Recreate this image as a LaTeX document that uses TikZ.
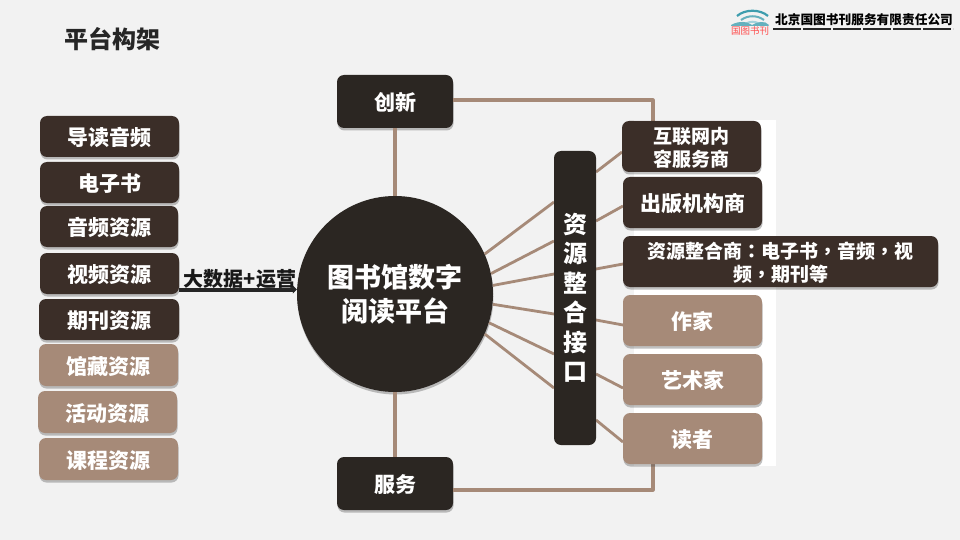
\documentclass[tikz,border=0pt]{standalone}
\usepackage{fontspec}
\setmainfont{Noto Sans CJK SC}
\newfontfamily\tcfont{Noto Sans CJK TC}
\usetikzlibrary{shadows,arrows.meta}
\definecolor{bgc}{HTML}{F2F2F2}
\definecolor{brownbox}{HTML}{3B2E28}
\definecolor{darkbox}{HTML}{2B2622}
\definecolor{tanbox}{HTML}{A68A78}
\definecolor{tealc}{HTML}{3E9DAE}
\definecolor{teall}{HTML}{A5D3DC}
\tikzset{
  x=1pt,y=-1pt,
  softshadow/.style={drop shadow={shadow xshift=0.5pt,shadow yshift=-2.5pt,opacity=.35,fill=black!70}},
  boxbase/.style={rounded corners=7pt,softshadow,inner sep=0pt,align=center,text=white,font=\fontsize{21}{24}\selectfont\bfseries},
  brownnode/.style={boxbase,fill=brownbox},
  tannode/.style={boxbase,fill=tanbox},
  darknode/.style={boxbase,fill=darkbox},
  smalltext/.style={font=\fontsize{19}{23}\selectfont\bfseries},
  link/.style={draw=tanbox,line width=3.2pt},
  thinlink/.style={draw=tanbox,line width=2.8pt},
}
\newcommand{\boxat}[7]{% style,name,x1,y1,x2,y2,text
  \node[#1,minimum width=#5pt-#3pt,minimum height=#6pt-#4pt] (#2) at ({(#3+#5)/2},{(#4+#6)/2}) {\vbox{\kern3.75pt\hbox{\begin{tabular}{@{}c@{}}#7\end{tabular}}\kern-3.75pt}};}
\begin{document}
\begin{tikzpicture}
\useasboundingbox (0,0) rectangle (960,540);
\fill[bgc] (0,0) rectangle (960,540);
\fill[white] (634,120) rectangle (776,466);
% title
\node[anchor=center,font=\fontsize{24}{28}\selectfont\bfseries,text=black!85] (title) at (112,39) {平台构架};
% logo
\begin{scope}
\draw[tealc,line width=2.2pt] (737,16) .. controls (745,9) and (760,9) .. (768,16);
\draw[tealc!80,line width=2pt] (741,20) .. controls (748,15) and (757,15) .. (764,20);
\draw[teall,line width=2pt] (745,24) .. controls (750,21) and (755,21) .. (760,24);
\fill[tealc!80] (731,25) .. controls (740,20) and (748,22) .. (752,25) .. controls (757,22) and (765,20) .. (769,25) -- (768,26) -- (731,26) -- cycle;
\node[text=red!70,font=\fontsize{9.5}{9.5}\selectfont,inner sep=0pt] (logotext) at (750,31) {国图书刊};
\node[text=black,font=\fontsize{12.7}{13}\selectfont\bfseries,inner sep=0pt] (company) at (864,20) {北京国图书刊服务有限责任公司};
\coordinate (subl) at (773,29.5);
\coordinate (subr) at (953,29.5);
\draw[black!85,line width=2pt,dash pattern=on 28pt off 2pt] (subl) -- (subr);
\end{scope}
% nodes
\node[circle,fill=darkbox,softshadow,minimum size=196pt,inner sep=0pt,align=center,text=white,font=\fontsize{27}{34}\selectfont\bfseries] (hub) at (395,294) {图书馆数字\\阅读平台};
\coordinate (b1) at (554,202);
\coordinate (b2) at (554,241);
\coordinate (b3) at (554,274);
\coordinate (b4) at (554,314);
\coordinate (b5) at (554,354);
\coordinate (b6) at (554,388);
\coordinate (c1) at (596,172);
\coordinate (c2) at (596,221);
\coordinate (c3) at (596,269);
\coordinate (c4) at (596,320);
\coordinate (c5) at (596,374);
\coordinate (c6) at (596,420);
\coordinate (d1) at (622,152);
\coordinate (d2) at (623,206);
\coordinate (d3) at (623,264);
\coordinate (d4) at (623,325);
\coordinate (d5) at (623,388);
\coordinate (d6) at (623,442);
\coordinate (tr) at (653,100);
\coordinate (br) at (653,490);
\coordinate (tb) at (653,122);
\coordinate (bb) at (653,464);
% left column
\boxat{brownnode}{l1}{40}{116}{179}{157}{导读音频}
\boxat{brownnode}{l2}{40}{162}{179}{203}{电子书}
\boxat{brownnode}{l3}{40}{206}{178}{247}{音频资源}
\boxat{brownnode}{l4}{40}{253}{179}{294}{视频资源}
\boxat{brownnode}{l5}{39}{299}{179}{340}{期刊资源}
\boxat{tannode}{l6}{39}{344}{178}{386}{馆藏资源}
\boxat{tannode}{l7}{38}{391}{177}{433}{活动资源}
\boxat{tannode}{l8}{39}{438}{178}{480}{课程资源}
% top & bottom
\boxat{darknode}{top}{337}{75}{453}{128}{创新}
\boxat{darknode}{bot}{337}{457}{453}{510}{服务}
% connectors (behind boxes on the right)
\draw[link] (top.south) -- (hub.north);
\draw[link] (bot.north) -- (hub.south);
\draw[link,line join=round] (453,100) -- (tr) -- (tb);
\draw[link,line join=round] (453,490) -- (br) -- (bb);
\draw[thinlink] (hub.24) -- (b1);
\draw[thinlink] (hub.12) -- (b2);
\draw[thinlink] (hub.5) -- (b3);
\draw[thinlink] (hub.-6) -- (b4);
\draw[thinlink] (hub.-17) -- (b5);
\draw[thinlink] (hub.-24) -- (b6);
\draw[thinlink] (c1) -- (d1);
\draw[thinlink] (c2) -- (d2);
\draw[thinlink] (c3) -- (d3);
\draw[thinlink] (c4) -- (d4);
\draw[thinlink] (c5) -- (d5);
\draw[thinlink] (c6) -- (d6);
% bar
\node[fill=darkbox,rounded corners=7pt,inner sep=0pt,minimum width=42pt,minimum height=294pt,text=white,align=center,font=\fontsize{24}{29.5}\selectfont\bfseries] (bar) at (575,298) {资\\源\\整\\合\\接\\口};
% right column
\boxat{brownnode,smalltext}{r1}{622}{121}{761}{172}{互联网内\\容服务商}
\boxat{brownnode}{r2}{623}{177}{762}{228}{出版机构商}
\boxat{brownnode,smalltext}{r3}{623}{236}{938}{287}{资源整合商{\tcfont\bfseries ：}电子书{\tcfont\bfseries ，}音频{\tcfont\bfseries ，}视\\频{\tcfont\bfseries ，}期刊等}
\boxat{tannode}{r4}{623}{295}{762}{346}{作家}
\boxat{tannode}{r5}{623}{354}{762}{405}{艺术家}
\boxat{tannode}{r6}{623}{413}{762}{464}{读者}
% big-data arrow
\draw[black!85,line width=4pt,-{Triangle[length=4pt,width=8pt]}] (l4.east|-0,289.5) -- (hub.west|-0,289.5);
\node[font=\fontsize{20}{22}\selectfont\bfseries,text=black!90,inner sep=0pt] (bigdata) at (240,279) {大数据+运营};
\end{tikzpicture}
\end{document}
